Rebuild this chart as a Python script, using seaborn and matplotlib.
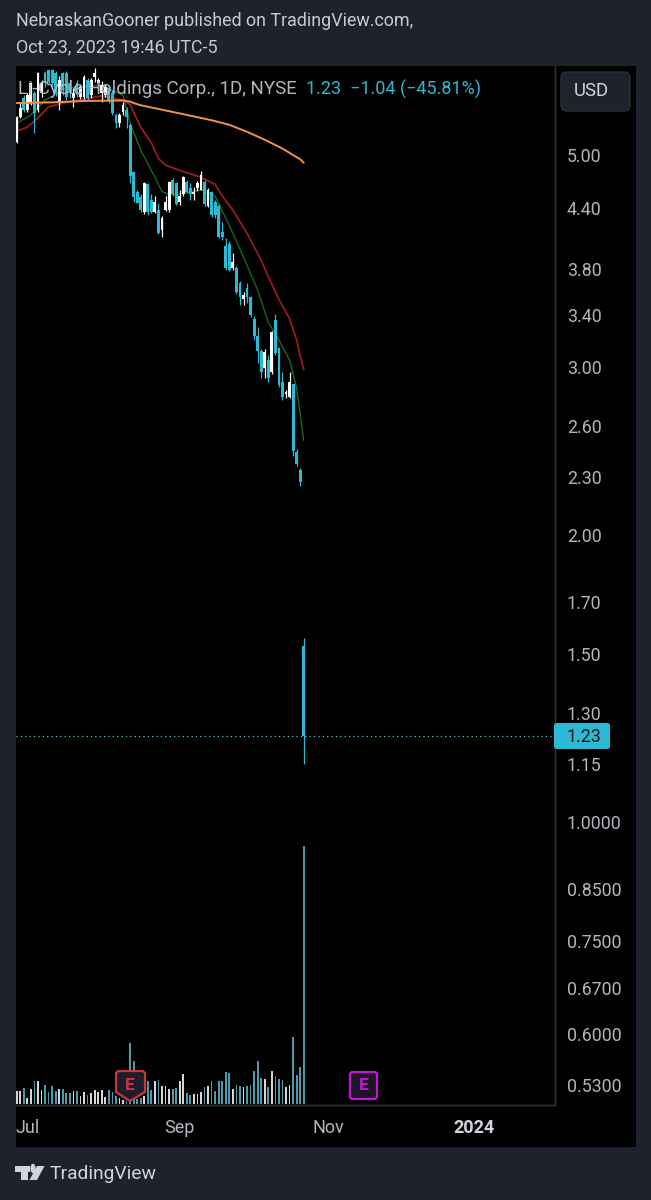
import matplotlib
matplotlib.use("Agg")
import matplotlib.pyplot as plt
import pandas as pd
import seaborn as sns
from matplotlib.patches import Circle, FancyBboxPatch, Polygon, Rectangle
from matplotlib.ticker import FixedFormatter, FixedLocator, NullLocator

# one value per trading day, Jul to Oct 23 2023
opens = [5.16, 5.48, 5.74, 5.58, 5.67, 5.81, 5.58, 5.81, 6.10, 6.14, 6.14, 6.10, 5.67, 6.10, 6.10, 5.95,
         5.74, 5.95, 5.75, 5.75, 5.99, 5.78, 6.04, 5.95, 5.81, 5.78, 5.88, 5.81, 5.51, 5.40, 5.55, 5.58,
         5.38, 4.80, 4.58, 4.52, 4.36, 4.66, 4.49, 4.36, 4.38, 4.17, 4.38, 4.38, 4.71, 4.68, 4.47, 4.55,
         4.69, 4.62, 4.55, 4.62, 4.60, 4.69, 4.42, 4.57, 4.47, 4.42, 4.15, 4.02, 4.04, 3.81, 3.81, 3.67,
         3.53, 3.63, 3.55, 3.37, 3.23, 3.12, 2.99, 3.05, 2.96, 3.36, 3.14, 2.89, 2.81, 2.79, 2.88, 2.44,
         2.34, 1.53]
highs = [5.50, 5.67, 5.78, 5.81, 5.96, 5.84, 6.11, 5.99, 6.13, 6.15, 6.15, 6.13, 6.05, 6.11, 6.13, 5.99,
         5.88, 5.99, 5.94, 6.07, 6.02, 6.02, 6.17, 6.02, 5.98, 5.94, 5.91, 5.85, 5.54, 5.54, 5.68, 5.62,
         5.40, 4.81, 4.60, 4.55, 4.69, 4.68, 4.55, 4.53, 4.46, 4.32, 4.53, 4.70, 4.73, 4.69, 4.60, 4.76,
         4.71, 4.67, 4.63, 4.70, 4.81, 4.71, 4.62, 4.59, 4.49, 4.44, 4.26, 4.09, 4.06, 3.95, 3.83, 3.69,
         3.59, 3.67, 3.56, 3.39, 3.30, 3.13, 3.13, 3.09, 3.27, 3.41, 3.15, 2.96, 2.84, 2.96, 2.88, 2.46,
         2.35, 1.56]
lows = [5.15, 5.47, 5.55, 5.55, 5.64, 5.27, 5.55, 5.75, 5.89, 5.92, 5.89, 5.77, 5.58, 5.78, 5.71, 5.74,
        5.62, 5.75, 5.72, 5.72, 5.71, 5.74, 5.96, 5.89, 5.68, 5.75, 5.67, 5.51, 5.34, 5.35, 5.51, 5.34,
        4.68, 4.47, 4.45, 4.36, 4.34, 4.33, 4.35, 4.35, 4.13, 4.10, 4.37, 4.36, 4.53, 4.43, 4.43, 4.53,
        4.56, 4.49, 4.49, 4.59, 4.60, 4.42, 4.41, 4.31, 4.30, 4.09, 4.07, 3.79, 3.78, 3.79, 3.58, 3.48,
        3.48, 3.50, 3.38, 3.20, 3.03, 2.92, 2.92, 2.89, 2.95, 3.09, 2.86, 2.77, 2.78, 2.78, 2.42, 2.36,
        2.25, 1.15]
closes = [5.48, 5.60, 5.58, 5.78, 5.95, 5.54, 6.10, 5.95, 5.95, 5.96, 5.95, 5.81, 5.99, 5.85, 5.75, 5.81,
          5.81, 5.78, 5.89, 6.04, 5.74, 5.99, 6.10, 5.99, 5.92, 5.89, 5.71, 5.54, 5.40, 5.51, 5.64, 5.48,
          4.76, 4.52, 4.46, 4.38, 4.68, 4.36, 4.36, 4.47, 4.14, 4.30, 4.47, 4.69, 4.55, 4.44, 4.53, 4.74,
          4.58, 4.55, 4.58, 4.68, 4.77, 4.44, 4.60, 4.33, 4.33, 4.10, 4.10, 3.81, 3.79, 3.86, 3.59, 3.55,
          3.57, 3.55, 3.40, 3.23, 3.12, 2.96, 3.11, 2.92, 3.26, 3.10, 2.87, 2.79, 2.82, 2.89, 2.45, 2.37,
          2.27, 1.23]
# relative volume, no scale is shown on the chart
volumes = [13, 13, 16, 6, 15, 23, 23, 14, 19, 12, 18, 13, 15, 15, 11, 11,
           13, 13, 8, 12, 9, 11, 14, 12, 14, 7, 14, 12, 8, 6, 4, 3,
           61, 43, 5, 6, 8, 23, 14, 23, 24, 18, 18, 15, 15, 16, 23, 30,
           11, 9, 10, 10, 12, 17, 18, 23, 13, 23, 23, 32, 31, 15, 19, 18,
           17, 18, 19, 33, 43, 26, 25, 17, 33, 28, 25, 24, 17, 19, 67, 29,
           37, 258]

ma_long_idx = [0, 10, 20, 30, 32, 33, 35, 40, 45, 50, 55, 60, 65, 70, 75, 80, 81]
ma_long = [5.67, 5.68, 5.70, 5.705, 5.69, 5.67, 5.64, 5.59, 5.54, 5.49, 5.44, 5.38, 5.29, 5.19, 5.08, 4.95, 4.91]
ma_mid_idx = [0, 3, 6, 9, 14, 24, 30, 32, 35, 38, 40, 42, 46, 49, 52, 56, 58, 61, 65, 69, 71, 74, 77, 79, 80, 81]
ma_mid = [5.30, 5.35, 5.47, 5.62, 5.68, 5.77, 5.71, 5.65, 5.35, 5.15, 4.96, 4.88, 4.82, 4.78, 4.74, 4.66, 4.53,
          4.38, 4.14, 3.88, 3.73, 3.53, 3.37, 3.20, 3.08, 2.98]
ma_short_idx = [0, 4, 8, 14, 24, 30, 32, 35, 39, 41, 43, 46, 52, 56, 60, 64, 68, 71, 74, 77, 79, 81]
ma_short = [5.40, 5.51, 5.71, 5.88, 5.92, 5.78, 5.40, 5.06, 4.74, 4.58, 4.55, 4.55, 4.60, 4.53, 4.22, 3.91, 3.61,
            3.34, 3.20, 3.05, 2.85, 2.51]

price_ticks = [5.00, 4.40, 3.80, 3.40, 3.00, 2.60, 2.30, 2.00, 1.70, 1.50, 1.30, 1.15,
               1.00, 0.85, 0.75, 0.67, 0.60, 0.53]
price_labels = ["5.00", "4.40", "3.80", "3.40", "3.00", "2.60", "2.30", "2.00", "1.70", "1.50", "1.30", "1.15",
                "1.0000", "0.8500", "0.7500", "0.6700", "0.6000", "0.5300"]
time_ticks = [3, 46, 88, 129]
time_labels = ["Jul", "Sep", "Nov", "2024"]
last_price = 1.23

CYAN = "#2BB9D4"
PANEL = "#1E222D"
GRID = "#2A2E39"
TEXT = "#B2B5BE"


def fx(px):
    return px / 651


def fy(px):
    return 1 - px / 1200


sns.set_theme(style="dark")
plt.rcParams["font.family"] = ["Roboto", "DejaVu Sans"]

bars = pd.DataFrame({"idx": range(len(opens)), "open": opens, "high": highs, "low": lows,
                     "close": closes, "volume": volumes})
bars["side"] = ["up" if c >= o else "down" for o, c in zip(bars["open"], bars["close"])]
bars["low_body"] = bars[["open", "close"]].min(axis=1)
bars["body"] = (bars["open"] - bars["close"]).abs()
candle_colors = bars["side"].map({"up": "white", "down": CYAN})

fig = plt.figure(figsize=(6.51, 12), dpi=100, facecolor=PANEL)
fig.add_artist(Rectangle((fx(16), fy(1147)), fx(620), 1081 / 1200, transform=fig.transFigure,
                         facecolor="black", edgecolor="none", zorder=-1))
ax = fig.add_axes([fx(16), fy(1105), fx(539), 1039 / 1200])
vol_ax = ax.twinx()
ax.set_zorder(vol_ax.get_zorder() + 1)
ax.patch.set_visible(False)
vol_ax.set_facecolor("black")

sns.barplot(data=bars, x="idx", y="volume", hue="side", palette={"up": "#D6D6D6", "down": "#4A9BAC"},
            hue_order=["up", "down"], native_scale=True, dodge=False, width=0.5, saturation=1,
            linewidth=0, legend=False, ax=vol_ax)
vol_ax.set_ylim(-1, 1038)
vol_ax.set_yticks([])
vol_ax.set_ylabel("")

ax.set_yscale("log")
ax.vlines(bars["idx"], bars["low"], bars["high"], colors=candle_colors, linewidth=0.9, zorder=2)
ax.bar(bars["idx"], bars["body"], bottom=bars["low_body"], width=0.8, color=candle_colors, linewidth=0, zorder=3)

sns.lineplot(x=ma_short_idx, y=ma_short, color="#1B661E", linewidth=1.0, ax=ax, zorder=1.5)
sns.lineplot(x=ma_mid_idx, y=ma_mid, color="#9A1A1E", linewidth=1.3, ax=ax, zorder=1.5)
sns.lineplot(x=ma_long_idx, y=ma_long, color="#EE9348", linewidth=1.4, ax=ax, zorder=5)
ax.axhline(last_price, color="#5FC4D8", linewidth=0.9, linestyle=(0, (1, 2.5)), zorder=1)

ax.set_xlim(-0.2, 151.9)
ax.set_ylim(0.5051, 6.2007)
ax.yaxis.tick_right()
ax.yaxis.set_major_locator(FixedLocator(price_ticks))
ax.yaxis.set_major_formatter(FixedFormatter(price_labels))
ax.yaxis.set_minor_locator(NullLocator())
ax.tick_params(axis="y", length=0, pad=8.6, labelsize=12.8, labelcolor=TEXT)
ax.set_xticks(time_ticks)
ax.set_xticklabels(time_labels)
ax.tick_params(axis="x", length=0, pad=10, labelsize=13, labelcolor=TEXT)
ax.get_xticklabels()[-1].set_fontweight("bold")
ax.get_xticklabels()[-1].set_color("#D1D4DC")
ax.set_xlabel("")
ax.set_ylabel("")
ax.grid(False)
vol_ax.grid(False)
for a in (ax, vol_ax):
    for name, spine in a.spines.items():
        spine.set_visible(name in ("bottom", "right"))
        spine.set_color(GRID)
        spine.set_linewidth(1)

# header, pane legend
fig.text(fx(16), fy(21), "NebraskanGooner published on TradingView.com,", fontsize=12.9, color="#C8CAD0", va="center")
fig.text(fx(16), fy(47), "Oct 23, 2023 19:46 UTC-5", fontsize=12.9, color="#C8CAD0", va="center")
fig.text(fx(18), fy(89), "Li-Cycle Holdings Corp., 1D, NYSE", fontsize=13.5, color="#B2B5BE", va="center", zorder=6)
fig.text(fx(306), fy(89), "1.23  \u22121.04 (\u221245.81%)", fontsize=13, color=CYAN, va="center", zorder=6)

# USD button
fig.add_artist(FancyBboxPatch((fx(561), fy(111)), fx(69), 39 / 1200, boxstyle="round,pad=0,rounding_size=0.009",
                              transform=fig.transFigure, mutation_aspect=651 / 1200, facecolor=PANEL,
                              edgecolor=GRID, linewidth=1, zorder=6))
fig.text(fx(591), fy(91), "USD", fontsize=13.3, color="#D1D4DC", ha="center", va="center", zorder=7)

# last price tag
fig.add_artist(FancyBboxPatch((fx(554), fy(749)), fx(56), 26 / 1200, boxstyle="round,pad=0,rounding_size=0.004",
                              transform=fig.transFigure, mutation_aspect=651 / 1200, facecolor=CYAN,
                              edgecolor="none", zorder=6))
fig.text(fx(567), fy(737), "1.23", fontsize=12.8, color="#131722", va="center", zorder=7)

# earnings flags
fig.add_artist(Polygon([(fx(118), fy(1071)), (fx(143), fy(1071)), (fx(145), fy(1073)), (fx(145), fy(1092)),
                        (fx(130), fy(1101)), (fx(116), fy(1092)), (fx(116), fy(1073))],
                       closed=True, transform=fig.transFigure, facecolor="#1E1E2A", edgecolor="#C9353F",
                       linewidth=1.6, zorder=6))
fig.text(fx(130), fy(1086), "E", fontsize=12.5, fontweight="bold", color="#C9353F", ha="center", va="center", zorder=7)
fig.add_artist(FancyBboxPatch((fx(350), fy(1099)), fx(27), 27 / 1200, boxstyle="round,pad=0,rounding_size=0.004",
                              transform=fig.transFigure, mutation_aspect=651 / 1200, facecolor="#1A1626",
                              edgecolor="#C414D8", linewidth=1.6, zorder=6))
fig.text(fx(363.5), fy(1086), "E", fontsize=12.5, fontweight="bold", color="#C414D8", ha="center", va="center", zorder=7)

# TradingView logo and name
logo_color = "#D1D4DC"
fig.add_artist(Polygon([(fx(15), fy(1166)), (fx(29.5), fy(1166)), (fx(29.5), fy(1172)), (fx(28), fy(1172)),
                        (fx(28), fy(1180)), (fx(21), fy(1180)), (fx(21), fy(1172)), (fx(15), fy(1172))],
                       closed=True, transform=fig.transFigure, facecolor=logo_color, edgecolor="none", zorder=6))
fig.add_artist(Polygon([(fx(37), fy(1166)), (fx(44.5), fy(1166)), (fx(37), fy(1180)), (fx(29.5), fy(1180))],
                       closed=True, transform=fig.transFigure, facecolor=logo_color, edgecolor="none", zorder=6))
logo_dot = Circle((fx(33), fy(1168.5)), fx(2.6), transform=fig.transFigure, facecolor=logo_color, edgecolor="none", zorder=6)
fig.add_artist(logo_dot)
fig.text(fx(50), fy(1174), "TradingView", fontsize=13.9, color=logo_color, va="center", zorder=7)

fig.savefig("out.png", dpi=100, facecolor=fig.get_facecolor())
